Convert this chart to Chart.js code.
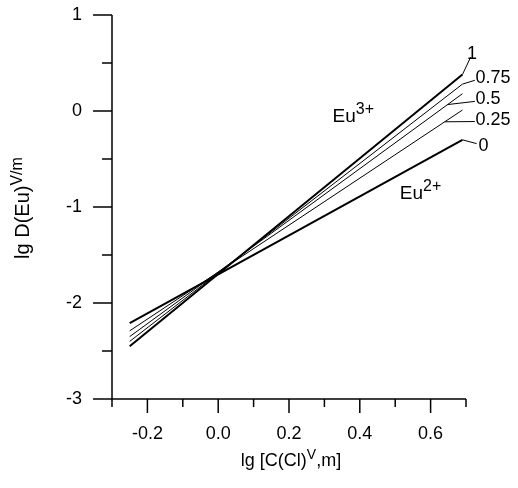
<!DOCTYPE html>
<html>
<head>
<meta charset="utf-8">
<script src="https://cdn.jsdelivr.net/npm/chart.js@4.4.0/dist/chart.umd.min.js"></script>
<style>
  html, body { margin: 0; padding: 0; background: #fff; }
  #wrap { width: 518px; height: 488px; }
</style>
</head>
<body>
<div id="wrap"><canvas id="chart"></canvas></div>
<script>
// data
const xRange = [-0.25, 0.69];
const seriesNames = ['1', '0.75', '0.5', '0.25', '0'];
const startValues = [-2.45, -2.40, -2.35, -2.29, -2.21];
const endValues = [0.38, 0.28, 0.18, 0.01, -0.30];
const xTicks = [-0.2, 0.0, 0.2, 0.4, 0.6];
const yTicks = [-3, -2, -1, 0, 1];

const FONT = "'Liberation Sans', Arial, sans-serif";

// where the curve labels sit (data coords), and where each leader starts on its line
const labelSpots = [
  { lead: 0.69, end: [0.713, 0.56], text: [0.703, 0.54] },
  { lead: 0.69, end: [0.725, 0.32], text: [0.727, 0.29] },
  { lead: 0.648, end: [0.725, 0.10], text: [0.727, 0.07] },
  { lead: 0.640, end: [0.725, -0.11], text: [0.727, -0.15] },
  { lead: 0.69, end: [0.730, -0.34], text: [0.735, -0.42] }
];

const datasets = seriesNames.map((name, i) => ({
  label: name,
  data: [{ x: xRange[0], y: startValues[i] }, { x: xRange[1], y: endValues[i] }],
  borderColor: '#000',
  borderWidth: (i === 0 || i === seriesNames.length - 1) ? 2 : 1,
  pointRadius: 0,
  tension: 0,
  fill: false
}));

// text with superscript pieces
function drawParts(ctx, parts, x, y, size, supSize, rise) {
  let cx = x;
  parts.forEach(p => {
    ctx.font = (p.sup ? supSize : size) + 'px ' + FONT;
    ctx.fillText(p.t, cx, p.sup ? y - rise : y);
    cx += ctx.measureText(p.t).width;
  });
  return cx - x;
}
function partsWidth(ctx, parts, size, supSize) {
  let w = 0;
  parts.forEach(p => {
    ctx.font = (p.sup ? supSize : size) + 'px ' + FONT;
    w += ctx.measureText(p.t).width;
  });
  return w;
}

function noPad(s) {
  s.paddingTop = 0; s.paddingBottom = 0; s.paddingLeft = 0; s.paddingRight = 0;
}

const decorPlugin = {
  id: 'decor',
  afterDraw(chart) {
    const ctx = chart.ctx;
    const xs = chart.scales.x, ys = chart.scales.y;
    const X = v => xs.getPixelForValue(v);
    const Y = v => ys.getPixelForValue(v);
    ctx.save();
    ctx.strokeStyle = '#000';
    ctx.fillStyle = '#000';
    ctx.lineWidth = 1.5;

    // axis lines
    ctx.beginPath();
    ctx.moveTo(X(xs.min), Y(ys.max));
    ctx.lineTo(X(xs.min), Y(ys.min));
    ctx.lineTo(X(xs.max), Y(ys.min));
    ctx.stroke();

    // x ticks every 0.1, major every 0.2
    for (let k = -3; k <= 7; k++) {
      const px = X(k / 10);
      const len = (k % 2 === 0) ? 14 : 8;
      ctx.beginPath();
      ctx.moveTo(px, Y(ys.min));
      ctx.lineTo(px, Y(ys.min) + len);
      ctx.stroke();
    }
    // y ticks every 0.5, major every 1
    for (let k = -6; k <= 2; k++) {
      const py = Y(k / 2);
      const len = (k % 2 === 0) ? 19 : 10;
      ctx.beginPath();
      ctx.moveTo(X(xs.min), py);
      ctx.lineTo(X(xs.min) - len, py);
      ctx.stroke();
    }

    // leaders + curve labels
    ctx.lineWidth = 1;
    ctx.font = '18px ' + FONT;
    ctx.textBaseline = 'alphabetic';
    ctx.textAlign = 'left';
    labelSpots.forEach((s, i) => {
      const t = (s.lead - xRange[0]) / (xRange[1] - xRange[0]);
      const ly = startValues[i] + t * (endValues[i] - startValues[i]);
      ctx.beginPath();
      ctx.moveTo(X(s.lead), Y(ly));
      ctx.lineTo(X(s.end[0]), Y(s.end[1]));
      ctx.stroke();
      ctx.fillText(seriesNames[i], X(s.text[0]), Y(s.text[1]));
    });

    // Eu labels
    drawParts(ctx, [{ t: 'Eu' }, { t: '3+', sup: true }], X(0.323), Y(-0.11), 19, 16, 8);
    drawParts(ctx, [{ t: 'Eu' }, { t: '2+', sup: true }], X(0.513), Y(-0.92), 19, 16, 8);

    // x title
    const xt = [{ t: 'lg [C(Cl)' }, { t: 'V', sup: true }, { t: ',m]' }];
    const xw = partsWidth(ctx, xt, 18, 14);
    drawParts(ctx, xt, (chart.chartArea.left + chart.chartArea.right) / 2 - xw / 2 + 2, 466, 18, 14, 7);

    // y title, rotated
    const yt = [{ t: 'lg D(Eu)' }, { t: 'V/m', sup: true }];
    const yw = partsWidth(ctx, yt, 20, 16);
    ctx.save();
    ctx.translate(29, 208);
    ctx.rotate(-Math.PI / 2);
    drawParts(ctx, yt, -yw / 2, 0, 20, 16, 7);
    ctx.restore();

    ctx.restore();
  }
};

new Chart(document.getElementById('chart'), {
  type: 'line',
  data: { datasets: datasets },
  plugins: [decorPlugin],
  options: {
    responsive: true,
    maintainAspectRatio: false,
    animation: false,
    layout: { padding: { top: 15, right: 52, left: 0, bottom: 0 } },
    plugins: { legend: { display: false }, tooltip: { enabled: false } },
    scales: {
      x: {
        type: 'linear',
        min: -0.3,
        max: 0.7,
        afterBuildTicks: s => { s.ticks = xTicks.map(v => ({ value: v })); },
        afterFit: s => { s.height = 89; noPad(s); },
        grid: { display: false, drawTicks: false, tickLength: 0 },
        border: { display: false },
        ticks: {
          color: '#000',
          padding: 24,
          maxRotation: 0,
          font: { family: FONT, size: 18 },
          callback: v => v.toFixed(1)
        }
      },
      y: {
        type: 'linear',
        min: -3,
        max: 1,
        afterBuildTicks: s => { s.ticks = yTicks.map(v => ({ value: v })); },
        afterFit: s => { s.width = 112; noPad(s); },
        grid: { display: false, drawTicks: false, tickLength: 0 },
        border: { display: false },
        ticks: {
          color: '#000',
          padding: 30,
          font: { family: FONT, size: 18 },
          callback: v => String(v)
        }
      }
    }
  }
});
</script>
</body>
</html>
